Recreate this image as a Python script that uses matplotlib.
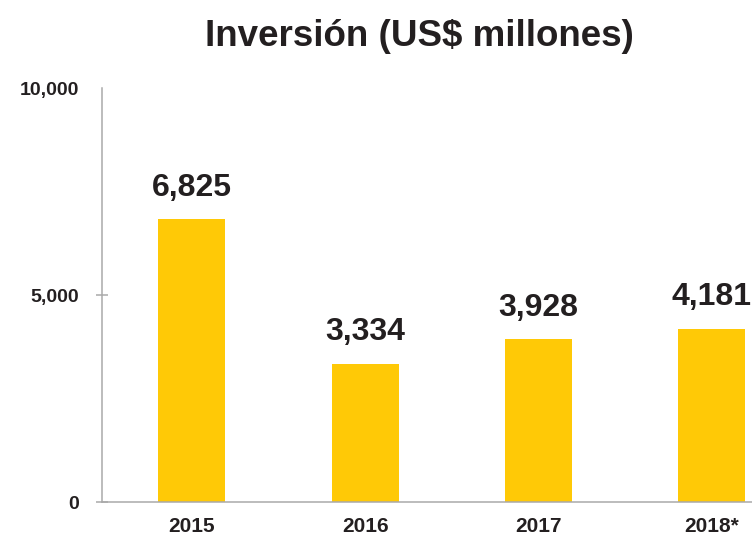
import matplotlib.pyplot as plt

years = ["2015", "2016", "2017", "2018*"]
inversion = [6825, 3334, 3928, 4181]
yticks = [0, 5000, 10000]

bar_color = "#FFC906"
axis_gray = "#A9A9A9"
ink = "#231F20"

fig = plt.figure(figsize=(7.52, 5.36), dpi=100)
ax = fig.add_axes([0.1356, 0.0634, 0.8644, 0.7724])

x = range(len(years))
ax.bar(x, inversion, width=0.387, color=bar_color, zorder=2)

# value labels over each bar
for xi, v in zip(x, inversion):
    ax.annotate(f"{v:,}", xy=(xi, v), xytext=(0, 17), textcoords="offset points",
                ha="center", va="baseline", fontsize=23, fontweight="bold",
                family="Liberation Sans", color=ink)

ax.set_xlim(-0.519, 3.231)
ax.set_ylim(0, 10000)
ax.set_xticks(list(x))
ax.set_xticklabels(years)
ax.set_yticks(yticks)
ax.set_yticklabels([f"{t:,}" for t in yticks])

for lab in ax.get_xticklabels() + ax.get_yticklabels():
    lab.set_family("Liberation Sans")
    lab.set_fontweight("bold")
    lab.set_color(ink)
for lab in ax.get_xticklabels():
    lab.set_fontsize(15)
for lab in ax.get_yticklabels():
    lab.set_fontsize(14)

ax.tick_params(axis="x", length=0, pad=11)
ax.tick_params(axis="y", direction="inout", length=9, width=1.1,
               color=axis_gray, pad=12)
ax.yaxis.get_major_ticks()[-1].tick1line.set_visible(False)

for side in ["top", "right"]:
    ax.spines[side].set_visible(False)
for side in ["left", "bottom"]:
    ax.spines[side].set_color(axis_gray)
    ax.spines[side].set_linewidth(1.1)

fig.text(419 / 752, 1 - 37 / 536, "Inversión (US$ millones)", ha="center", va="center",
         fontsize=26.5, fontweight="bold", family="Liberation Sans", color=ink)

fig.savefig("out.png", dpi=100)
